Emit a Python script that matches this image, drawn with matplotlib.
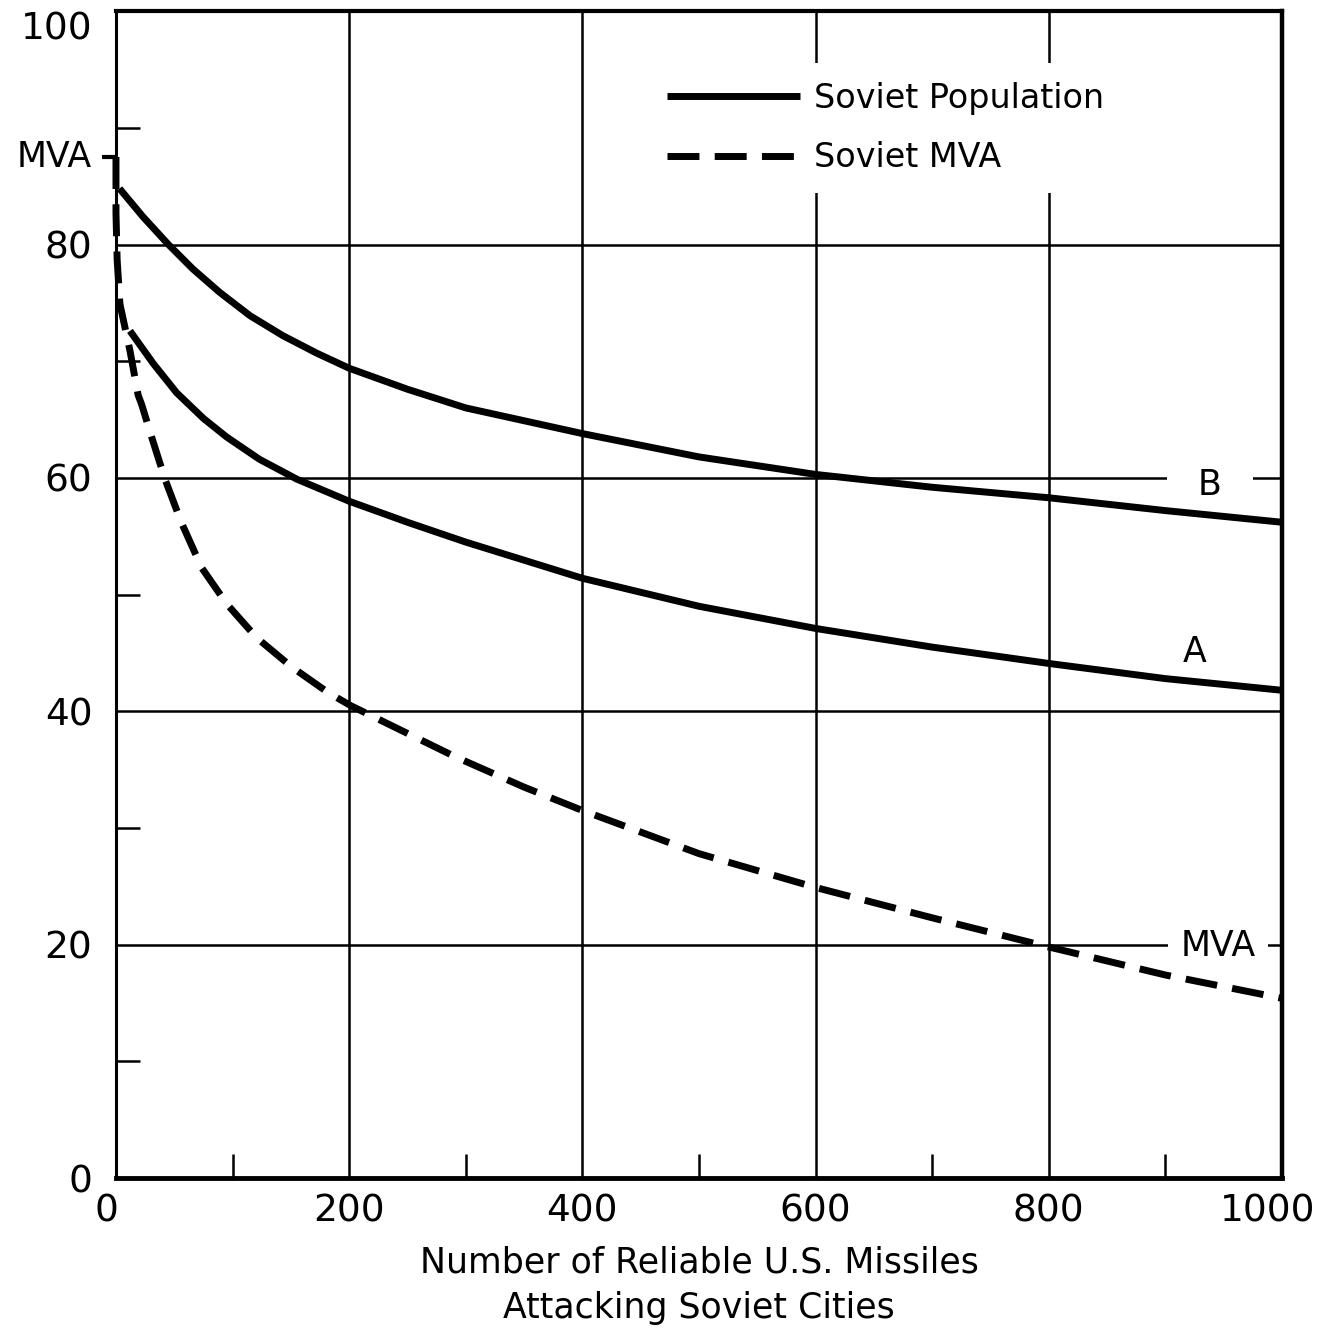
import matplotlib
matplotlib.use("Agg")
import matplotlib.pyplot as plt
from matplotlib.transforms import ScaledTranslation

# curve B (upper Soviet population curve)
missiles_b = [3, 23, 45, 66, 89, 115, 143, 172, 200, 250, 300, 400, 500, 600, 700, 800, 900, 1000]
pop_b = [84.8, 82.4, 80.0, 77.9, 75.9, 73.9, 72.2, 70.7, 69.4, 67.6, 66.0, 63.8, 61.8, 60.3, 59.2,
         58.3, 57.2, 56.2]

# curve A (lower Soviet population curve)
missiles_a = [12, 32, 52, 75, 95, 123, 155, 200, 250, 300, 400, 500, 600, 700, 800, 900, 1000]
pop_a = [72.6, 69.8, 67.3, 65.1, 63.5, 61.6, 59.9, 58.0, 56.2, 54.5, 51.4, 49.0, 47.1, 45.5, 44.1,
         42.8, 41.8]

# Soviet MVA (dashed)
missiles_mva = [0, 0, 1, 3.4, 12, 19, 22, 30.6, 42, 56, 73.5, 95, 120.7, 150.7, 182, 201,
                291, 350, 400, 500, 600, 700, 800, 900, 1000]
mva = [87.5, 82.7, 78.7, 74.9, 70.9, 67.1, 66.3, 63.5, 59.9, 56.2, 52.3, 49.2, 46.3, 43.8, 41.6, 40.5,
       36.1, 33.5, 31.5, 27.8, 24.9, 22.3, 19.8, 17.4, 15.4]

x_ticks = [0, 200, 400, 600, 800, 1000]
y_ticks = [0, 20, 40, 60, 80, 100]
x_minor = [100, 300, 500, 700, 900]
y_minor = [10, 30, 50, 70, 90]

fig = plt.figure(figsize=(13.3, 13.32), dpi=100)
ax = fig.add_axes([0.0872, 0.1156, 0.8767, 0.876])

ax.plot(missiles_b, pop_b, color='k', lw=5, solid_capstyle='butt', solid_joinstyle='round',
        label='Soviet Population', zorder=3)
ax.plot(missiles_a, pop_a, color='k', lw=5, solid_capstyle='butt', solid_joinstyle='round', zorder=3)
ax.plot(missiles_mva, mva, color='k', lw=5, linestyle=(0, (4.6, 2.2)), dash_capstyle='butt',
        label='Soviet MVA', zorder=3, clip_on=False)

ax.set_xlim(0, 1000)
ax.set_ylim(0, 100)
ax.set_xticks(x_ticks, labels=[str(v) for v in x_ticks])
ax.set_yticks(y_ticks, labels=[str(v) for v in y_ticks])
ax.set_xticks(x_minor, minor=True)
ax.set_yticks(y_minor, minor=True)

ax.set_axisbelow(True)
ax.grid(which='major', color='k', lw=1.8)
ax.tick_params(which='major', length=0, labelsize=27)
ax.tick_params(axis='y', which='major', pad=17)
ax.tick_params(axis='x', which='major', pad=11)
ax.tick_params(which='minor', direction='in', length=17, width=1.8)

for side, w in [('left', 2.2), ('bottom', 3.5), ('right', 3.2), ('top', 3.0)]:
    ax.spines[side].set_linewidth(w)

# nudge edge tick labels like the original
for lab in ax.get_yticklabels():
    if lab.get_text() == '100':
        lab.set_va('top')
for lab in ax.get_xticklabels():
    if lab.get_text() == '0':
        lab.set_transform(lab.get_transform() + ScaledTranslation(-0.1, 0, fig.dpi_scale_trans))
    if lab.get_text() == '1000':
        lab.set_transform(lab.get_transform() + ScaledTranslation(-0.14, 0, fig.dpi_scale_trans))

ax.set_xlabel('Number of Reliable U.S. Missiles\nAttacking Soviet Cities', fontsize=25,
              labelpad=12, linespacing=1.4)

# curve labels
ax.text(938, 59.4, 'B', fontsize=25, ha='center', va='center', zorder=1,
        bbox=dict(boxstyle='square,pad=0.9', fc='white', ec='none'))
ax.text(925, 45.1, 'A', fontsize=25, ha='center', va='center', zorder=1)
ax.text(945, 19.9, 'MVA', fontsize=25, ha='center', va='center', zorder=1,
        bbox=dict(boxstyle='square,pad=0.35', fc='white', ec='none'))

# MVA marker on the left axis
ax.text(-0.0206, mva[0], 'MVA', transform=ax.get_yaxis_transform(), ha='right', va='center',
        fontsize=25)
ax.plot([0], [mva[0]], marker=0, ms=10, mew=3, color='k', clip_on=False)

ax.legend(loc='center', bbox_to_anchor=(0.66, 0.90), fontsize=24, handlelength=4.0,
          handletextpad=0.4, labelspacing=0.8, frameon=True, facecolor='white',
          edgecolor='none', framealpha=1, fancybox=False, borderpad=0.55)

fig.savefig('out.png', dpi=100)
